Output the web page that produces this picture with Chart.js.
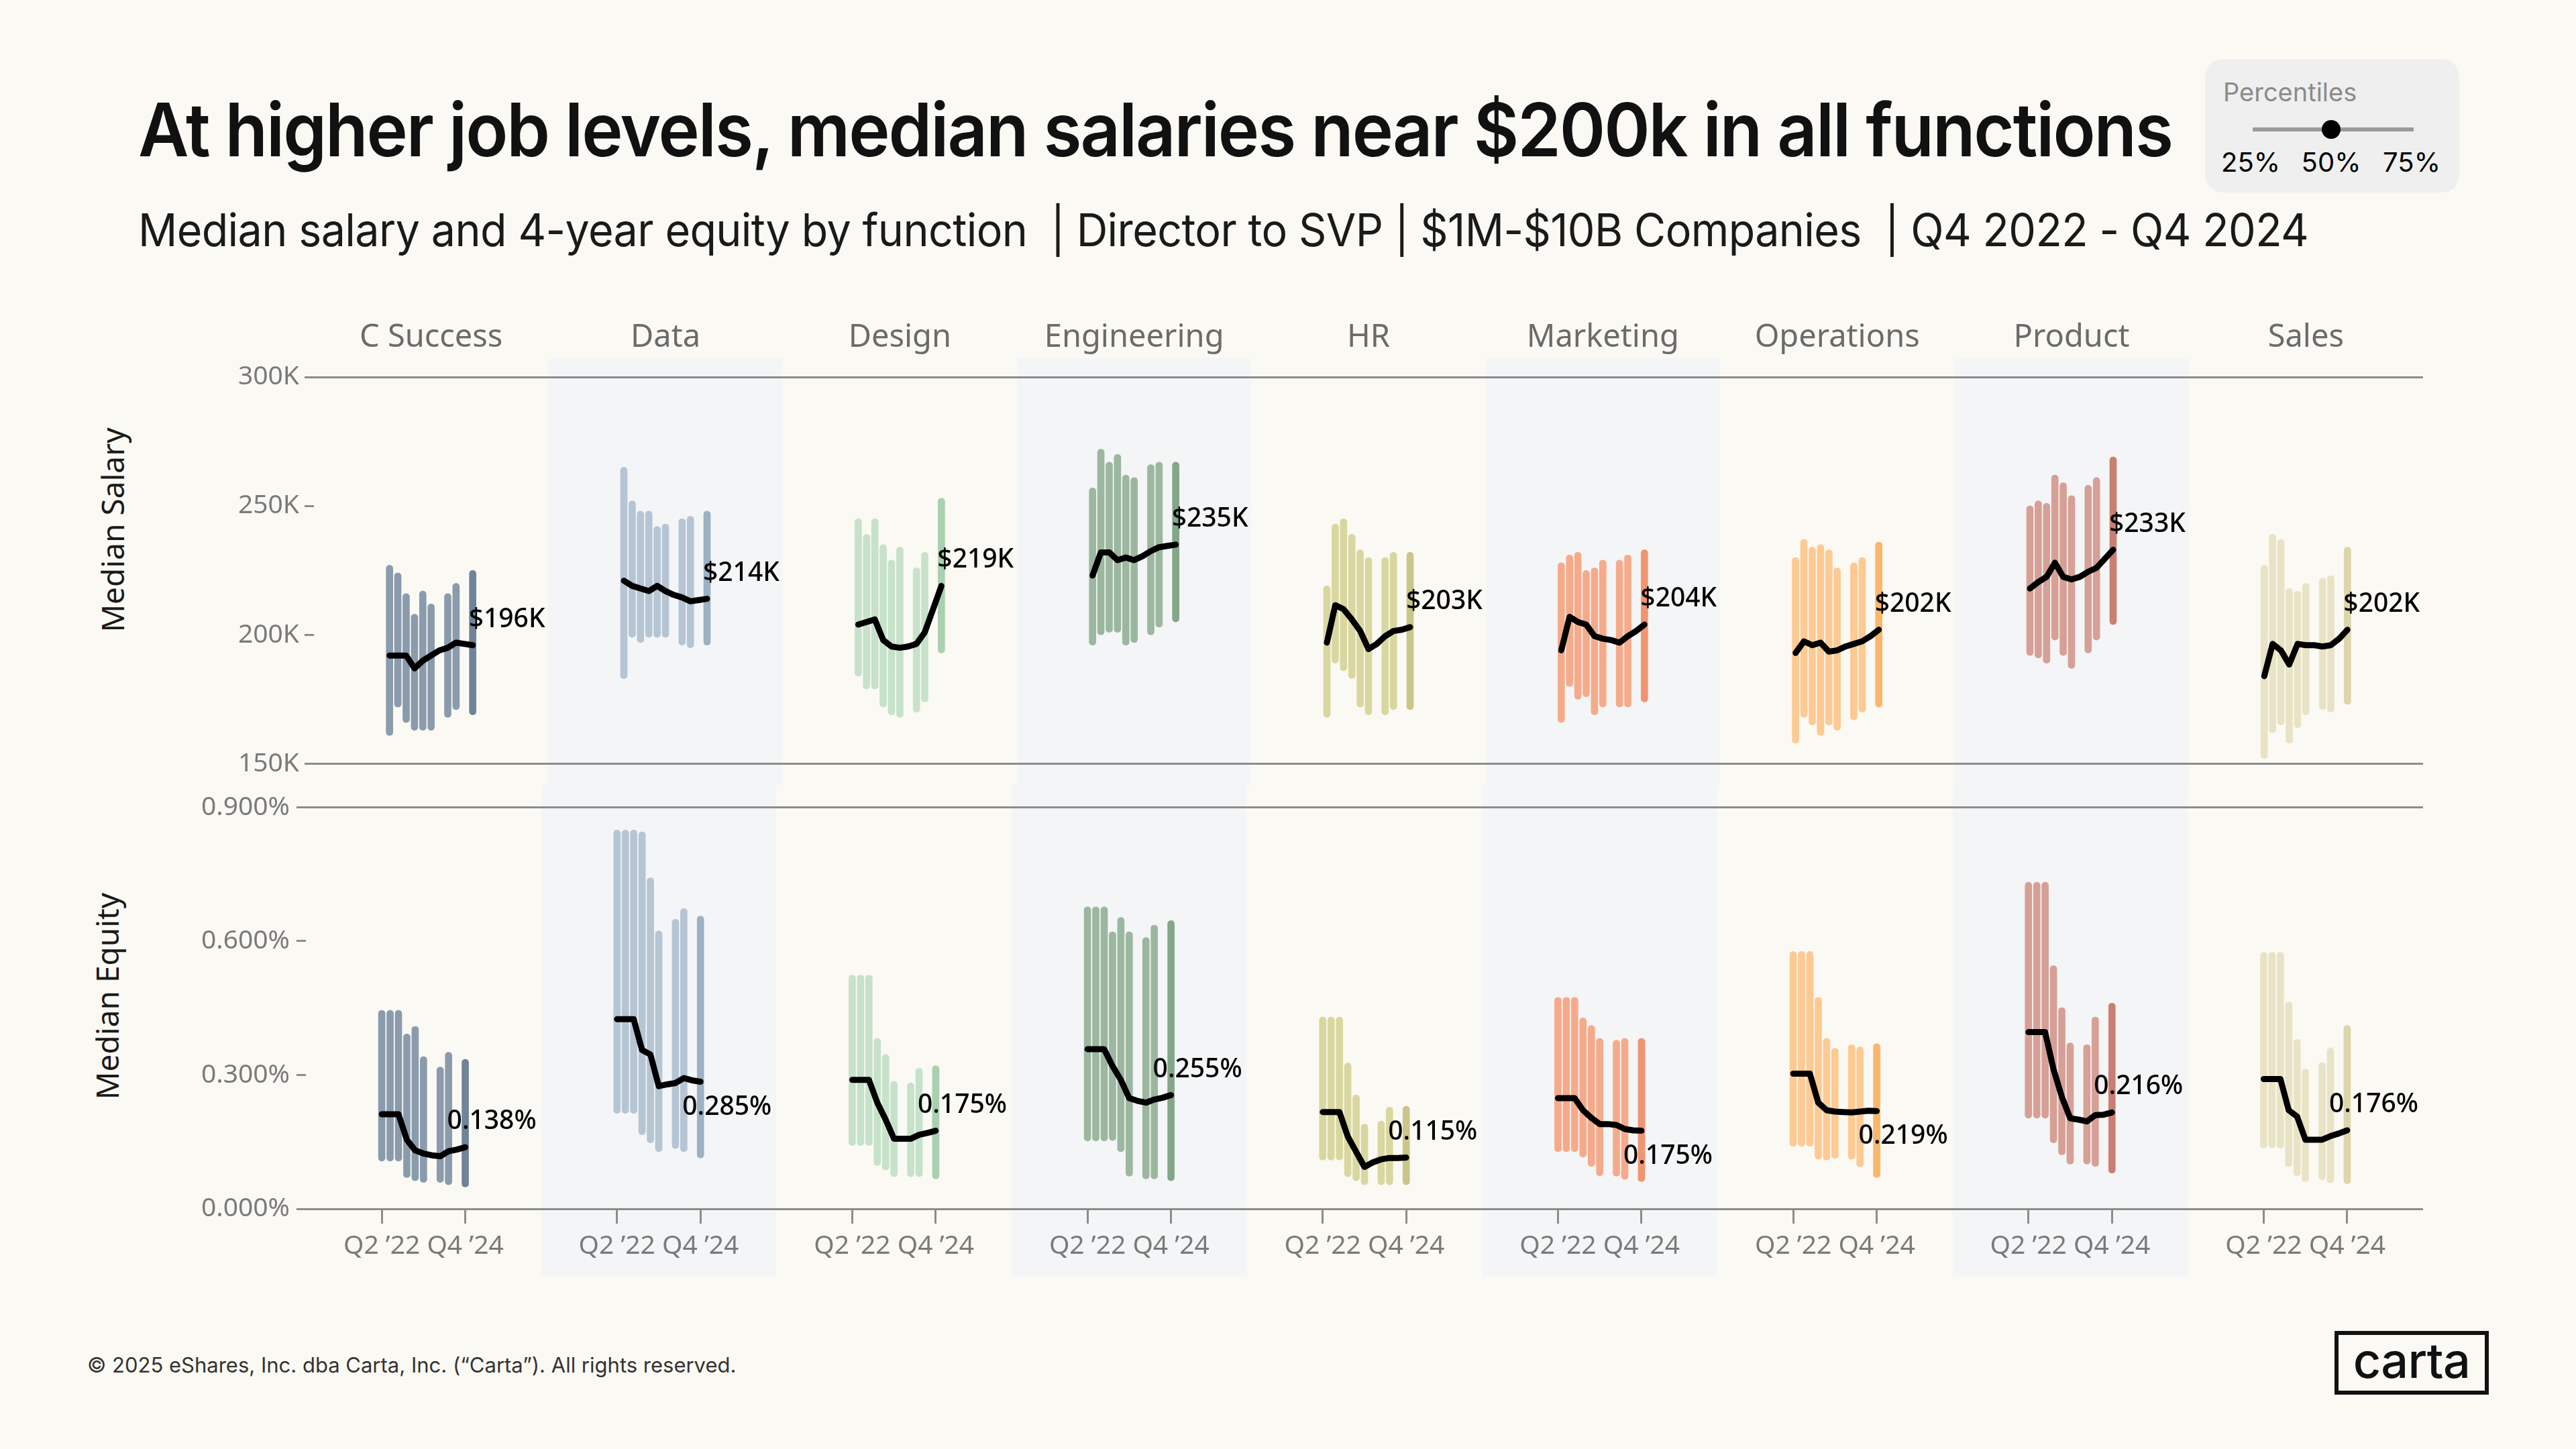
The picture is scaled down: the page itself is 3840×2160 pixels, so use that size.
<!DOCTYPE html>
<html>
<head>
<meta charset="utf-8">
<script src="https://cdn.jsdelivr.net/npm/chart.js@4.4.1/dist/chart.umd.min.js"></script>
<style>
  html, body { margin: 0; padding: 0; background: #fbf9f3; }
  #page { position: relative; width: 3840px; height: 2160px; overflow: hidden; font-family: Inter, sans-serif; }
  .title { position: absolute; left: 206px; top: 138px; font-size: 110px; line-height: 110px; font-weight: 600; letter-spacing: -0.02em; color: #111; white-space: pre; transform-origin: left top; }
  .subtitle { position: absolute; left: 206px; top: 309px; font-size: 67px; line-height: 67px; font-weight: 400; letter-spacing: -0.01em; color: #1a1a1a; white-space: pre; transform-origin: left top; }
  .legend { position: absolute; left: 3287px; top: 88px; width: 379px; height: 199px; background: #efefef; border-radius: 26px; }
  .legend .lt { position: absolute; left: 27px; top: 30px; font-size: 38px; line-height: 38px; color: #8b8b8b; }
  .legend .track { position: absolute; left: 71px; top: 102px; width: 240px; height: 6px; background: #9a9a9a; }
  .legend .dot { position: absolute; left: 174px; top: 91px; width: 28px; height: 28px; border-radius: 50%; background: #000; }
  .legend .pl { position: absolute; top: 134px; width: 120px; margin-left: -60px; text-align: center; font-size: 40px; line-height: 40px; color: #000; }
  .ytitle { position: absolute; font-family: "Noto Sans", sans-serif; font-size: 46px; color: #1a1a1a; white-space: nowrap; transform: translate(-50%, -50%) rotate(-90deg); }
  .wrap { position: absolute; left: 0; width: 3840px; }
  .footer { position: absolute; left: 130px; top: 2019px; font-size: 31px; line-height: 31px; color: #333; white-space: pre; }
  .logo { position: absolute; left: 3480px; top: 1984px; width: 230px; height: 95px; box-sizing: border-box; border: 6px solid #111; display: flex; align-items: center; justify-content: center; font-size: 72px; font-weight: 500; color: #111; letter-spacing: -0.01em; padding-bottom: 8px; }
</style>
</head>
<body>
<div id="page">
  <div class="title" id="title">At higher job levels, median salaries near $200k in all functions</div>
  <div class="subtitle" id="subtitle">Median salary and 4-year equity by function  | Director to SVP | $1M-$10B Companies  | Q4 2022 - Q4 2024</div>

  <div class="legend">
    <div class="lt">Percentiles</div>
    <div class="track"></div>
    <div class="dot"></div>
    <div class="pl" style="left:68px">25%</div>
    <div class="pl" style="left:188px">50%</div>
    <div class="pl" style="left:308px">75%</div>
  </div>

  <div class="ytitle" style="left:167px; top:790px">Median Salary</div>
  <div class="ytitle" style="left:159px; top:1485px">Median Equity</div>

  <div class="wrap" style="top:440px; height:730px"><canvas id="salaryChart"></canvas></div>
  <div class="wrap" style="top:1170px; height:770px"><canvas id="equityChart"></canvas></div>

  <div class="footer">© 2025 eShares, Inc. dba Carta, Inc. (“Carta”). All rights reserved.</div>
  <div class="logo">carta</div>
</div>

<script>
const functions = ['C Success', 'Data', 'Design', 'Engineering', 'HR', 'Marketing', 'Operations', 'Product', 'Sales'];
const quarters = ['Q2 ’22', 'Q3 ’22', 'Q4 ’22', 'Q1 ’23', 'Q2 ’23', 'Q3 ’23', 'Q4 ’23', 'Q1 ’24', 'Q2 ’24', 'Q3 ’24', 'Q4 ’24'];

// salary, $K : 25th / 50th / 75th percentile per quarter
const salaryLow = [
  [161, 172, 166, 163, 163, 163, null, 168, 171, null, 169],   // C Success
  [183, 199, 197, 199, 199, 199, null, 196, 195, null, 196],   // Data
  [184, 179, 179, 172, 169, 168, null, 170, 174, null, 193],   // Design
  [196, 200, 201, 201, 196, 197, null, 200, 203, null, 205],   // Engineering
  [168, 189, 186, 183, 172, 169, null, 169, 171, null, 171],   // HR
  [166, 180, 175, 176, 169, 172, null, 172, 172, null, 174],   // Marketing
  [158, 168, 165, 161, 165, 163, null, 167, 170, null, 172],   // Operations
  [192, 191, 189, 198, 192, 187, null, 193, 198, null, 204],   // Product
  [152, 162, 165, 158, 164, 169, null, 171, 170, null, 173]    // Sales
];
const salaryMid = [
  [192, 192, 192, 187, 190, 192, 194, 195, 197, 196.5, 196],
  [221, 219, 218, 217, 219, 217, 215.5, 214.5, 213, 213.5, 214],
  [204, 205, 206, 198, 195.5, 195, 195.5, 196.5, 201, 210, 219],
  [223, 232, 232, 229, 230, 229, 230.5, 232.5, 234, 234.5, 235],
  [197, 211.5, 210, 206, 201.5, 194.5, 196.5, 199.5, 201.5, 202, 203],
  [194, 207, 205, 204, 199.5, 198.5, 198, 197, 199.5, 201.5, 204],
  [193, 197.5, 196, 197, 193.5, 194, 195.5, 196.5, 197.5, 199.5, 202],
  [218, 220.5, 222.5, 228, 222.5, 221.5, 222.5, 224.5, 226, 229.5, 233],
  [184, 196.5, 194, 188.5, 196.5, 196, 196, 195.5, 196, 198.5, 202]
];
const salaryHigh = [
  [227, 224, 216, 208, 217, 212, null, 216, 220, null, 225],
  [265, 252, 248, 248, 242, 243, null, 245, 246, null, 248],
  [245, 239, 245, 235, 229, 234, null, 226, 232, null, 253],
  [257, 272, 267, 270, 262, 261, null, 266, 267, null, 267],
  [219, 243, 245, 239, 233, 230, null, 230, 232, null, 232],
  [228, 231, 232, 225, 226, 229, null, 229, 231, null, 233],
  [230, 237, 234, 235, 233, 226, null, 228, 230, null, 236],
  [250, 252, 251, 262, 259, 254, null, 258, 261, null, 269],
  [227, 239, 237, 218, 217, 220, null, 222, 223, null, 234]
];

// 4-year equity, % of company
const equityLow = [
  [0.107, 0.107, 0.107, 0.070, 0.063, 0.059, null, 0.059, 0.054, null, 0.049],
  [0.214, 0.214, 0.214, 0.166, 0.148, 0.128, null, 0.135, 0.128, null, 0.114],
  [0.142, 0.142, 0.142, 0.097, 0.087, 0.072, null, 0.072, 0.072, null, 0.067],
  [0.152, 0.152, 0.152, 0.153, 0.128, 0.073, null, 0.067, 0.067, null, 0.063],
  [0.109, 0.109, 0.109, 0.072, 0.063, 0.054, null, 0.054, 0.054, null, 0.054],
  [0.128, 0.128, 0.128, 0.116, 0.095, 0.074, null, 0.073, 0.066, null, 0.061],
  [0.140, 0.140, 0.140, 0.111, 0.109, 0.113, null, 0.111, 0.094, null, 0.070],
  [0.203, 0.203, 0.203, 0.148, 0.121, 0.100, null, 0.100, 0.095, null, 0.080],
  [0.136, 0.136, 0.136, 0.094, 0.074, 0.061, null, 0.065, 0.058, null, 0.056]
];
const equityMid = [
  [0.212, 0.212, 0.212, 0.155, 0.131, 0.124, 0.120, 0.118, 0.129, 0.133, 0.138],
  [0.425, 0.425, 0.425, 0.356, 0.346, 0.275, 0.279, 0.282, 0.293, 0.288, 0.285],
  [0.289, 0.289, 0.289, 0.238, 0.200, 0.157, 0.157, 0.157, 0.166, 0.170, 0.175],
  [0.358, 0.358, 0.358, 0.320, 0.289, 0.248, 0.242, 0.238, 0.245, 0.249, 0.255],
  [0.217, 0.217, 0.217, 0.162, 0.128, 0.094, 0.104, 0.111, 0.114, 0.114, 0.115],
  [0.248, 0.248, 0.248, 0.221, 0.204, 0.190, 0.190, 0.188, 0.179, 0.176, 0.175],
  [0.303, 0.303, 0.303, 0.238, 0.221, 0.218, 0.217, 0.216, 0.218, 0.220, 0.219],
  [0.396, 0.396, 0.396, 0.313, 0.251, 0.203, 0.200, 0.196, 0.210, 0.211, 0.216],
  [0.291, 0.291, 0.291, 0.221, 0.207, 0.155, 0.155, 0.155, 0.163, 0.169, 0.176]
];
const equityHigh = [
  [0.445, 0.445, 0.445, 0.392, 0.409, 0.341, null, 0.318, 0.351, null, 0.335],
  [0.849, 0.849, 0.849, 0.845, 0.742, 0.623, null, 0.649, 0.673, null, 0.656],
  [0.524, 0.524, 0.524, 0.382, 0.346, 0.286, null, 0.282, 0.315, null, 0.321],
  [0.677, 0.677, 0.677, 0.621, 0.653, 0.621, null, 0.608, 0.636, null, 0.646],
  [0.430, 0.430, 0.430, 0.327, 0.255, 0.190, null, 0.197, 0.228, null, 0.230],
  [0.474, 0.474, 0.474, 0.428, 0.411, 0.382, null, 0.378, 0.382, null, 0.382],
  [0.577, 0.577, 0.577, 0.474, 0.382, 0.360, null, 0.368, 0.363, null, 0.370],
  [0.732, 0.732, 0.732, 0.545, 0.451, 0.372, null, 0.368, 0.430, null, 0.461],
  [0.575, 0.575, 0.575, 0.464, 0.380, 0.313, null, 0.328, 0.361, null, 0.411]
];

const salaryTicks = [150, 200, 250, 300];
const equityTicks = [0, 0.3, 0.6, 0.9];

const barColors = ['#8a9bad', '#b5c5d4', '#c6e2ca', '#9cb79f', '#d9d7a0', '#f5ab8b', '#fdca93', '#d6a097', '#e9e3c6'];
const lastBarColors = ['#6f8399', '#9db1c5', '#a9d1b0', '#84a689', '#c9c689', '#f19470', '#fbb66a', '#c97f73', '#ddd5ac'];

const GRID = '#8c8c8c';
const STEP = 0.0355; // width of one quarter inside a function column
const tickFont = { family: 'Noto Sans', size: 39 };

function xPos(f, q) {
  return f + 0.5 + (q - (quarters.length - 1) / 2) * STEP;
}

function buildDatasets(low, mid, high) {
  const sets = [];
  functions.forEach((name, f) => {
    const bars = [];
    const colors = [];
    quarters.forEach((q, k) => {
      if (low[f][k] == null) return;
      bars.push({ x: xPos(f, k), y: [low[f][k], high[f][k]] });
      colors.push(k === quarters.length - 1 ? lastBarColors[f] : barColors[f]);
    });
    sets.push({
      type: 'bar', label: name, data: bars, backgroundColor: colors,
      barThickness: 10, borderRadius: 5, borderSkipped: false, grouped: false, order: 1
    });
    sets.push({
      type: 'line', label: name, data: quarters.map((q, k) => ({ x: xPos(f, k), y: mid[f][k] })),
      borderColor: '#000', borderWidth: 9, pointRadius: 0, tension: 0,
      borderJoinStyle: 'round', borderCapStyle: 'round', order: 0
    });
  });
  return sets;
}

// alternating shaded columns
function bands(top, bottom) {
  return {
    id: 'bands',
    beforeDraw(chart) {
      const { ctx } = chart;
      const x = chart.scales.x;
      ctx.save();
      ctx.fillStyle = '#f4f5f6';
      functions.forEach((f, i) => {
        if (i % 2 === 0) return;
        const l = x.getPixelForValue(i), r = x.getPixelForValue(i + 1);
        const t = top(chart), b = bottom(chart);
        ctx.fillRect(l, t, r - l, b - t);
      });
      ctx.restore();
    }
  };
}

// value at the end of every median line
function endLabels(format, dx, dy) {
  return {
    id: 'endLabels',
    afterDatasetsDraw(chart) {
      const ctx = chart.ctx;
      ctx.save();
      ctx.font = '500 39px "Noto Sans"';
      ctx.fillStyle = '#000';
      ctx.textAlign = 'left';
      ctx.textBaseline = 'middle';
      chart.data.datasets.forEach((ds, i) => {
        if (ds.type !== 'line') return;
        const pts = chart.getDatasetMeta(i).data;
        const n = ds.data.length;
        const p = pts[n - 1];
        ctx.fillText(format(ds.data[n - 1].y), p.x + dx, p.y + dy(ds.data));
      });
      ctx.restore();
    }
  };
}

function yGrid(ticks) {
  return {
    color: c => (c.index === 0 || c.index === ticks.length - 1) ? GRID : 'transparent',
    lineWidth: 3, tickColor: GRID, tickWidth: 3, tickLength: 14, offset: false
  };
}

new Chart(document.getElementById('salaryChart'), {
  type: 'bar',
  data: { datasets: buildDatasets(salaryLow, salaryMid, salaryHigh) },
  options: {
    animation: false,
    responsive: true,
    maintainAspectRatio: false,
    layout: { padding: { left: 0, right: 228, top: 0, bottom: 29 } },
    plugins: { legend: { display: false }, tooltip: { enabled: false } },
    scales: {
      x: { type: 'linear', min: 0, max: functions.length, display: false, offset: false, grid: { offset: false } },
      xTop: {
        type: 'linear', position: 'top', min: 0, max: functions.length, offset: false,
        afterBuildTicks: s => { s.ticks = functions.map((f, i) => ({ value: i + 0.5 })); },
        afterFit: s => { s.height = 122; },
        ticks: {
          autoSkip: false, maxRotation: 0, padding: 30, color: '#6b6b6b',
          font: { family: 'Noto Sans', size: 47 },
          callback: (v, i) => functions[i]
        },
        grid: { display: false, drawTicks: false, offset: false },
        border: { display: false }
      },
      y: {
        min: salaryTicks[0], max: salaryTicks[salaryTicks.length - 1],
        afterBuildTicks: s => { s.ticks = salaryTicks.map(v => ({ value: v })); },
        afterFit: s => { s.width = 468; },
        ticks: { padding: 8, color: '#7a7a7a', font: tickFont, callback: v => v + 'K' },
        grid: yGrid(salaryTicks),
        border: { display: false }
      }
    }
  },
  plugins: [
    bands(c => c.chartArea.top - 28, c => c.height),
    endLabels(v => '$' + Math.round(v) + 'K', -6, () => -38)
  ]
});

new Chart(document.getElementById('equityChart'), {
  type: 'bar',
  data: { datasets: buildDatasets(equityLow, equityMid, equityHigh) },
  options: {
    animation: false,
    responsive: true,
    maintainAspectRatio: false,
    layout: { padding: { left: 0, right: 228, top: 32, bottom: 30 } },
    plugins: { legend: { display: false }, tooltip: { enabled: false } },
    scales: {
      x: {
        type: 'linear', min: 0, max: functions.length, offset: false,
        afterBuildTicks: s => {
          s.ticks = functions.flatMap((f, i) => [{ value: xPos(i, 0) }, { value: xPos(i, quarters.length - 1) }]);
        },
        afterFit: s => { s.height = 108; },
        ticks: {
          autoSkip: false, maxRotation: 0, padding: 10, color: '#7a7a7a', font: tickFont,
          callback: (v, i) => i % 2 === 0 ? quarters[0] : quarters[quarters.length - 1]
        },
        grid: { drawOnChartArea: false, drawTicks: true, tickLength: 22, tickColor: GRID, tickWidth: 3, offset: false },
        border: { display: false }
      },
      y: {
        min: equityTicks[0], max: equityTicks[equityTicks.length - 1],
        afterBuildTicks: s => { s.ticks = equityTicks.map(v => ({ value: v })); },
        afterFit: s => { s.width = 456; },
        ticks: { padding: 10, color: '#7a7a7a', font: tickFont, callback: v => v.toFixed(3) + '%' },
        grid: yGrid(equityTicks),
        border: { display: false }
      }
    }
  },
  plugins: [
    bands(() => 0, c => c.chartArea.bottom + 101),
    endLabels(v => v.toFixed(3) + '%', -27, d => d[d.length - 1].y > d[d.length - 2].y ? -38 : 38)
  ]
});

// squeeze headline text to the reference width
function fitWidth(id, target) {
  const el = document.getElementById(id);
  el.style.transform = 'none';
  const w = el.getBoundingClientRect().width;
  el.style.transform = 'scaleX(' + (target / w) + ')';
}
function fitAll() {
  fitWidth('title', 3032);
  fitWidth('subtitle', 3235);
}
fitAll();
if (document.fonts) document.fonts.ready.then(fitAll);
</script>
</body>
</html>
